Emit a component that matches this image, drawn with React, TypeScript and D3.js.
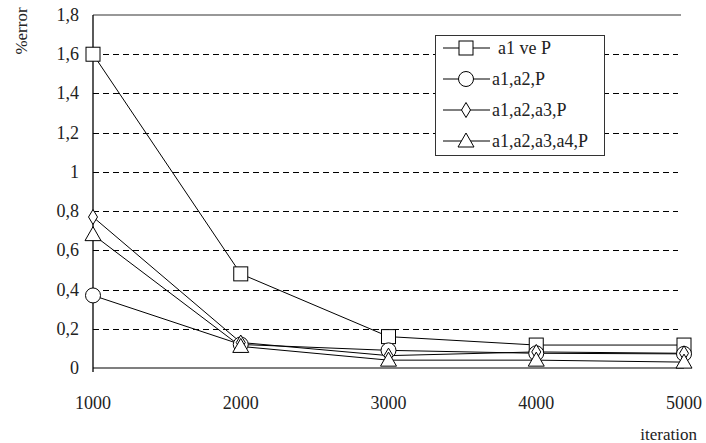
import { useMemo } from 'react';
import * as d3 from 'd3';

const WIDTH = 706;
const HEIGHT = 443;
const MARGIN = { top: 15, right: 22, bottom: 75, left: 93 };

const iterations = [1000, 2000, 3000, 4000, 5000];
const yTicks = [0, 0.2, 0.4, 0.6, 0.8, 1, 1.2, 1.4, 1.6, 1.8];

const seriesNames = ['a1 ve P', 'a1,a2,P', 'a1,a2,a3,P', 'a1,a2,a3,a4,P'];
const seriesMarkers = ['square', 'circle', 'diamond', 'triangle'];
const a1P = [1.6, 0.48, 0.16, 0.117, 0.117];
const a1a2P = [0.37, 0.12, 0.09, 0.075, 0.072];
const a1a2a3P = [0.77, 0.13, 0.063, 0.082, 0.075];
const a1a2a3a4P = [0.68, 0.11, 0.04, 0.04, 0.03];
const seriesValues = [a1P, a1a2P, a1a2a3P, a1a2a3a4P];

const FONT = "'Liberation Serif', 'DejaVu Serif', serif";

const Marker = ({ kind, x, y }: { kind: string; x: number; y: number }) => {
  const common = { fill: 'white', stroke: 'black', strokeWidth: 1 };
  if (kind === 'square') {
    return <rect {...common} x={x - 7} y={y - 7} width={14} height={14} />;
  }
  if (kind === 'circle') {
    return <circle {...common} cx={x} cy={y} r={7.5} />;
  }
  if (kind === 'diamond') {
    return <path {...common} d={`M${x},${y - 7.5}L${x + 4.5},${y}L${x},${y + 7.5}L${x - 4.5},${y}Z`} />;
  }
  return <path {...common} d={`M${x},${y - 8}L${x + 8},${y + 6}L${x - 8},${y + 6}Z`} />;
};

const Label = (props: any) => <text fontFamily={FONT} fill="#222" style={{ fontFamily: FONT }} {...props} />;

const App = () => {
  const boundsWidth = WIDTH - MARGIN.left - MARGIN.right;
  const boundsHeight = HEIGHT - MARGIN.top - MARGIN.bottom;

  const xScale = useMemo(
    () => d3.scaleLinear().domain([1000, 5000]).range([MARGIN.left, MARGIN.left + boundsWidth]),
    [boundsWidth]
  );
  const yScale = useMemo(
    () => d3.scaleLinear().domain([0, 1.8]).range([MARGIN.top + boundsHeight, MARGIN.top]),
    [boundsHeight]
  );

  const line = d3
    .line<number>()
    .x((_, i) => xScale(iterations[i]))
    .y(d => yScale(d));

  const fmt = (v: number) => (v === 0 || v === 1 ? String(v) : v.toFixed(1).replace('.', ','));

  const x0 = MARGIN.left;
  const x1 = MARGIN.left + boundsWidth;

  // legend placement
  const lg = { x: 435, y: 35, w: 169, h: 120 };
  const rowY = (i: number) => 48 + i * 31;

  return (
    <svg width={WIDTH} height={HEIGHT} style={{ position: 'absolute', left: 0, top: 0 }}>
      <rect width={WIDTH} height={HEIGHT} fill="white" />

      {/* gridlines */}
      {yTicks.map(t => {
        if (t === 0) {
          return <line key="g0" x1={x0} x2={x1} y1={yScale(t)} y2={yScale(t)} stroke="#555" strokeWidth={1.5} />;
        }
        if (t === 1.8) {
          return <line key="gtop" x1={x0} x2={x1 - 3} y1={yScale(t)} y2={yScale(t)} stroke="#333" strokeWidth={1.2} />;
        }
        return (
          <line
            key={`g${t}`}
            x1={x0}
            x2={x1 - 6}
            y1={Math.round(yScale(t)) + 0.5}
            y2={Math.round(yScale(t)) + 0.5}
            stroke="black"
            strokeWidth={1}
            strokeDasharray="6,4"
          />
        );
      })}

      {/* y axis */}
      <line x1={x0} x2={x0} y1={yScale(1.8)} y2={yScale(0) + 4} stroke="black" strokeWidth={1.3} />

      {/* y tick labels */}
      {yTicks.map(t => (
        <Label key={`yl${t}`} x={79} y={yScale(t) + 6} textAnchor="end" fontSize={18}>
          {fmt(t)}
        </Label>
      ))}

      {/* x tick labels */}
      {iterations.map(v => (
        <Label key={`xl${v}`} x={xScale(v)} y={409} textAnchor="middle" fontSize={18}>
          {v}
        </Label>
      ))}

      <Label x={697} y={440} textAnchor="end" fontSize={17}>
        iteration
      </Label>
      <Label transform="translate(27,31) rotate(-90)" textAnchor="middle" fontSize={17}>
        %error
      </Label>

      {/* lines */}
      {seriesValues.map((vals, i) => (
        <path key={`l${i}`} d={line(vals) ?? ''} fill="none" stroke="black" strokeWidth={1} />
      ))}
      {seriesValues.map((vals, i) =>
        vals.map((v, j) => <Marker key={`m${i}-${j}`} kind={seriesMarkers[i]} x={xScale(iterations[j])} y={yScale(v)} />)
      )}

      {/* legend */}
      <rect x={lg.x + 0.5} y={lg.y + 0.5} width={lg.w} height={lg.h} fill="white" stroke="#333" strokeWidth={1} />
      {seriesNames.map((name, i) => (
        <g key={`lg${i}`}>
          <line x1={443} x2={490} y1={rowY(i)} y2={rowY(i)} stroke="black" strokeWidth={1} />
          <Marker kind={seriesMarkers[i]} x={466} y={rowY(i)} />
          <Label x={i === 0 ? 498 : 492} y={rowY(i) + 6} fontSize={18}>
            {name}
          </Label>
        </g>
      ))}
    </svg>
  );
};

export default App;
